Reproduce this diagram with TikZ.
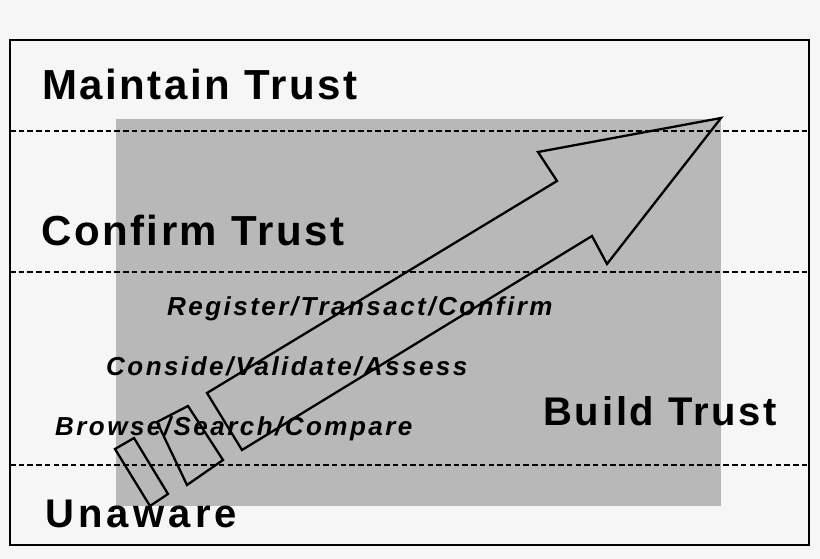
\documentclass[tikz,border=0pt]{standalone}
\usepackage{fontspec}
\setmainfont{Liberation Sans}
\usepackage{tikz}

\definecolor{paper}{HTML}{F6F6F6}
\definecolor{zone}{HTML}{B8B8B8}

\tikzset{
    stage/.style={inner sep=0pt, anchor=base west,
        font=\fontsize{42}{42}\selectfont\bfseries\addfontfeature{LetterSpace=6}},
    widestage/.style={inner sep=0pt, anchor=base west,
        font=\fontsize{40}{40}\selectfont\bfseries\addfontfeature{LetterSpace=#1}},
    action/.style={inner sep=0pt, anchor=base west,
        font=\fontsize{26}{26}\selectfont\bfseries\itshape\addfontfeature{LetterSpace=9.5}},
    level/.style={line width=2.4pt, dash pattern=on 5.5pt off 3.2pt},
    outline/.style={line width=2.3pt, line join=miter}
}

\begin{document}
\begin{tikzpicture}[x=1pt, y=-1pt]
    \def\picW{820}
    \def\picH{559}
    \useasboundingbox (0,0) rectangle (\picW,\picH);
    % paper and frame
    \fill[paper] (0,0) rectangle (\picW,\picH);
    \draw[line width=1.6pt] (10,40) rectangle (809,545);
    % trust zone
    \fill[zone] (116,119) rectangle (721,506);
    % stage boundaries
    \foreach \y in {131,272,465} {
        \draw[level] (10,\y) -- (809,\y);
    }
    % big arrow
    \draw[outline] (207,393) -- (557,181) -- (538,152) -- (721,118) -- (607,264)
        -- (592,236) -- (242,450) -- cycle;
    % trailing blocks
    \draw[outline] (188,406) -- (223,460) -- (187,485) -- (157,422) -- cycle;
    \draw[outline] (134,438) -- (168,494) -- (150,506) -- (115,449) -- cycle;
    % stage names
    \node[stage] (maintain) at (42,100) {Maintain Trust};
    \node[stage] (confirm) at (41,245) {Confirm Trust};
    \node[widestage=7] (build) at (543,425) {Build Trust};
    \node[widestage=10.5] (unaware) at (45,527) {Unaware};
    % activities
    \node[action] (register) at (167,315) {Register/Transact/Confirm};
    \node[action] (consider) at (106,375) {Conside/Validate/Assess};
    \node[action] (browse) at (55,435) {Browse/Search/Compare};
\end{tikzpicture}
\end{document}
